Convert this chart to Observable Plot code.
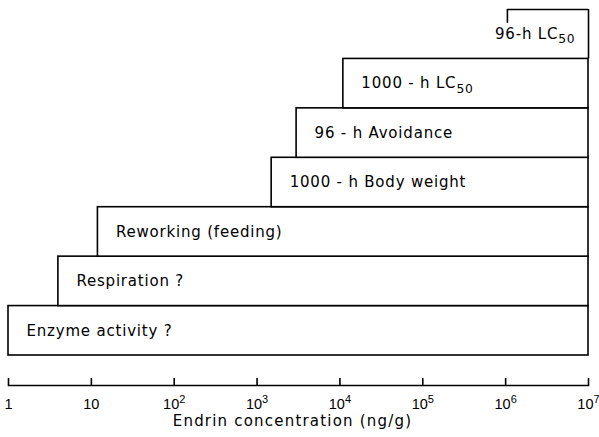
<!DOCTYPE html>
<html><head><meta charset="utf-8">
<script src="https://cdn.jsdelivr.net/npm/d3@7"></script>
<script src="https://cdn.jsdelivr.net/npm/@observablehq/plot@0.6"></script>
<style>body{margin:0;background:#fff}</style>
</head><body><div id="chart"></div>
<script>
// Responses, bottom row first; "_" marks a subscript, "^" a superscript
const responses = ["Enzyme activity ?", "Respiration ?", "Reworking (feeding)", "1000 - h Body weight", "96 - h Avoidance", "1000 - h LC_50", "96-h LC_50"];
// Lowest endrin concentration (ng/g) at which each response appears
const lowestEffect = [1, 4, 12, 1500, 3000, 11000, 1.05e6];
// Every bar reaches the top of the tested range
const upperLimit = 1e7;
const tickValues = [1, 10, 100, 1e3, 1e4, 1e5, 1e6, 1e7];
const tickLabels = ["1", "10", "10^2", "10^3", "10^4", "10^5", "10^6", "10^7"];
const axisTitle = "Endrin concentration (ng/g)";

const rows = responses.map((label, i) => ({label, start: lowestEffect[i], end: upperLimit, row: i}));
const closed = rows.slice(0, -1);
const open = rows.slice(-1);
const line = {stroke: "black", strokeWidth: 1.6};

const chart = Plot.plot({
  width: 599,
  height: 437,
  marginLeft: 8,
  marginRight: 11,
  marginTop: 9,
  marginBottom: 52,
  style: {fontFamily: "'DejaVu Sans', sans-serif", fontSize: "15px", letterSpacing: "0.8px", background: "white", color: "black"},
  x: {type: "log", domain: [1, upperLimit]},
  y: {domain: [0, responses.length], range: [355, 9], axis: null},
  marks: [
    Plot.rect(closed, {x1: "start", x2: "end", y1: "row", y2: d => d.row + 1, fill: "white", ...line}),
    Plot.ruleY(open, {y: d => d.row + 1, x1: "start", x2: "end", ...line}),
    Plot.ruleX(open, {x: "end", y1: "row", y2: d => d.row + 1, ...line}),
    Plot.ruleX(open, {x: "start", y1: d => d.row + 1, y2: d => d.row + 0.72, ...line}),
    Plot.text(closed, {x: "start", y: d => d.row + 0.5, text: "label", textAnchor: "start", dx: 18, fontSize: 15, fill: "black"}),
    Plot.text(open, {x: "end", y: d => d.row + 0.5, text: "label", textAnchor: "end", dx: -13, fontSize: 15, fill: "black"}),
    Plot.frame({anchor: "bottom", ...line}),
    Plot.axisX(tickValues, {tickSize: -7, tickPadding: 20, tickFormat: d => tickLabels[tickValues.indexOf(d)], fontSize: 14.5, fontFamily: "'Liberation Sans', sans-serif", strokeWidth: 1.6, label: null}),
    Plot.text([axisTitle], {frameAnchor: "bottom", lineAnchor: "middle", dy: 36, dx: -6, fontSize: 15, fill: "black"})
  ]
});

// turn "_n" / "^n" markers into real sub/superscript tspans
for (const t of chart.querySelectorAll("text")) {
  const els = t.querySelectorAll("tspan").length ? [...t.querySelectorAll("tspan")] : [t];
  for (const el of els) {
    const m = el.textContent.match(/^(.*?)([\^_])(\w+)$/);
    if (!m) continue;
    el.textContent = m[1];
    const s = document.createElementNS("http://www.w3.org/2000/svg", "tspan");
    s.setAttribute("dy", m[2] === "^" ? "-0.5em" : "0.35em");
    s.setAttribute("font-size", m[2] === "^" ? "76%" : "82%");
    s.textContent = m[3];
    el.appendChild(s);
  }
}
// axis labels: no extra spacing; title: a little wider
for (const t of chart.querySelectorAll("[aria-label='x-axis tick label'] text")) t.style.letterSpacing = "0px";
chart.querySelectorAll("text").forEach(t => { if (t.textContent === axisTitle) t.style.letterSpacing = "1.2px"; });
document.getElementById("chart").appendChild(chart);
</script>
</body></html>
